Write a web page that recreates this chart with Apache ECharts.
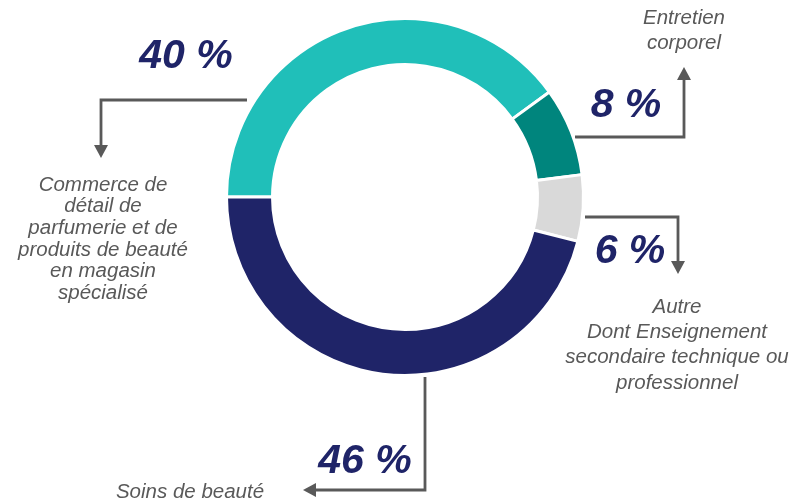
<!DOCTYPE html>
<html>
<head>
<meta charset="utf-8">
<script src="https://cdn.jsdelivr.net/npm/echarts@6/dist/echarts.min.js"></script>
<style>
  html, body { margin: 0; padding: 0; background: #fff; }
  #chart { width: 798px; height: 502px; }
</style>
</head>
<body>
<div id="chart"></div>
<script>
// parts, in clockwise order starting at the left
const categories = [
  'Commerce de\ndétail de\nparfumerie et de\nproduits de beauté\nen magasin\nspécialisé',
  'Entretien\ncorporel',
  'Autre\nDont Enseignement\nsecondaire technique ou\nprofessionnel',
  'Soins de beauté'
];
const values = [40, 8, 6, 46];
const colors = ['#20BFB9', '#00857D', '#D9D9D9', '#1F2468'];

const lineColor = '#595959';
const fontFamily = '"Liberation Sans", Arial, sans-serif';

let chart = echarts.init(document.getElementById('chart'), null, { renderer: 'canvas' });

// small helper: arrow = polyline + triangle head
function arrow(points, dir) {
  let tip = points[points.length - 1];
  let h = 13, w = 7, head;
  if (dir === 'down') head = [[tip[0] - w, tip[1] - h], [tip[0] + w, tip[1] - h], tip];
  if (dir === 'up') head = [[tip[0] - w, tip[1] + h], [tip[0] + w, tip[1] + h], tip];
  if (dir === 'left') head = [[tip[0] + h, tip[1] - w], [tip[0] + h, tip[1] + w], tip];
  let line = points.slice();
  // stop the line where the head begins
  let last = line[line.length - 1].slice();
  if (dir === 'down') last[1] -= h - 1;
  if (dir === 'up') last[1] += h - 1;
  if (dir === 'left') last[0] += h - 1;
  line[line.length - 1] = last;
  return [
    { type: 'polyline', shape: { points: line }, style: { stroke: lineColor, lineWidth: 2.8, fill: null } },
    { type: 'polygon', shape: { points: head }, style: { fill: lineColor } }
  ];
}

function pct(x, y, v) {
  return {
    type: 'text', x: x, y: y,
    style: {
      text: v + ' %', fill: colors[3], fontSize: 41, fontWeight: 'bold', fontStyle: 'italic',
      fontFamily: fontFamily, align: 'center', verticalAlign: 'middle'
    }
  };
}
function cat(x, y, text, lh) {
  return {
    type: 'text', x: x, y: y,
    style: {
      text: text, fill: lineColor, fontSize: 20.5, fontStyle: 'italic', fontFamily: fontFamily,
      align: 'center', verticalAlign: 'middle', lineHeight: lh
    }
  };
}

let graphics = [].concat(
  arrow([[247, 100], [101, 100], [101, 158]], 'down'),
  arrow([[575, 137], [684, 137], [684, 67]], 'up'),
  arrow([[585, 217], [678, 217], [678, 274]], 'down'),
  arrow([[425, 377], [425, 490], [303, 490]], 'left'),
  [
    pct(186, 57, values[0]),
    pct(626, 106, values[1]),
    pct(630, 252, values[2]),
    pct(365, 462, values[3]),
    cat(103, 239, categories[0], 21.6),
    cat(684, 31, categories[1], 25),
    cat(677, 345, categories[2], 25.3),
    cat(190, 492, categories[3], 22)
  ]
);

let option = {
  backgroundColor: '#fff',
  animation: false,
  series: [{
    type: 'pie',
    center: [405, 197],
    radius: [132.5, 178.5],
    startAngle: 180,
    clockwise: true,
    label: { show: false },
    labelLine: { show: false },
    itemStyle: { borderColor: '#fff', borderWidth: 3 },
    data: values.map(function (v, i) {
      return { value: v, name: categories[i], itemStyle: { color: colors[i] } };
    })
  }],
  graphic: graphics
};
chart.setOption(option);
</script>
</body>
</html>
